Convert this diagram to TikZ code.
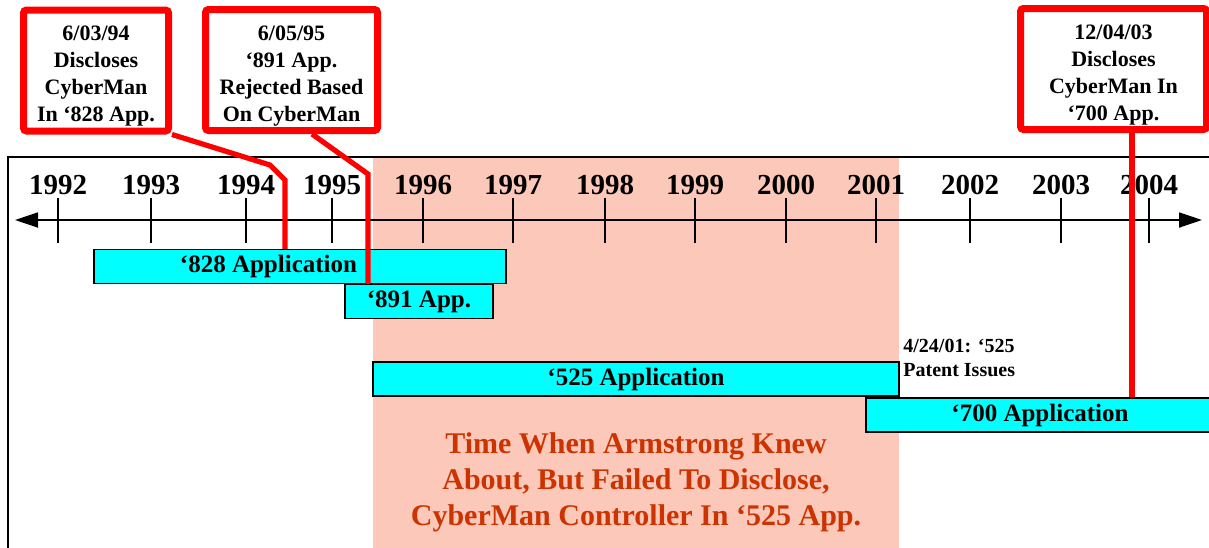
\documentclass[tikz,border=0pt]{standalone}
\usepackage{fontspec}
\setmainfont{Liberation Serif}
\usetikzlibrary{arrows.meta,calc}
\definecolor{barcyan}{RGB}{0,255,255}
\definecolor{knewshade}{RGB}{251,200,185}
\definecolor{knewred}{RGB}{204,51,0}
\definecolor{leadred}{RGB}{255,0,0}
\newcommand{\boxstrut}{\rule{0pt}{13pt}}

\begin{document}
\begin{tikzpicture}[x=0.5pt,y=-0.5pt,every node/.style={font=\bfseries},
    bar/.style={draw=black,line width=0.75pt,fill=barcyan,inner sep=0pt,minimum height=17pt,font=\bfseries\fontsize{12.5}{15}\selectfont},
    callout/.style={draw=leadred,line width=3.5pt,fill=white,rounded corners=1.5pt,align=center,inner sep=0pt,minimum height=60.5pt,font=\bfseries\fontsize{11}{13.5}\selectfont},
    lead/.style={draw=leadred,line width=2.6pt},
    year/.style={anchor=base,font=\bfseries\fontsize{14.5}{17}\selectfont}]
    \useasboundingbox (0,0) rectangle (1209,547);
    \clip (0,0) rectangle (1209,547);

    % Time Armstrong knew
    \fill[knewshade] (373,157) rectangle (899,560);

    % Frame
    \draw[line width=0.75pt] (8,560) -- (8,157) -- (1220,157);

    % Axis
    \draw[line width=0.9pt,{Triangle[length=11.5pt,width=7.5pt]}-{Triangle[length=11.5pt,width=7.5pt]}] (15,220) -- (1202,220);
    \foreach \x/\yr in {58/1992,151/1993,246/1994,332/1995,423/1996,513/1997,605/1998,695/1999,786/2000,876/2001,970/2002,1061/2003,1149/2004} {
        \draw[line width=0.8pt] (\x,198) -- (\x,243);
        \node[year] (y\yr) at (\x,194) {\yr};
    }

    % Applications
    \node[bar,minimum width=206pt] (w828) at (300,266.5) {};
    \node[font=\bfseries\fontsize{12.5}{15}\selectfont] (t828) at (268.5,266.5) {‘828 Application};
    \node[bar,minimum width=74pt] (w891) at (419,301.5) {‘891 App.};
    \node[bar,minimum width=263pt] (w525) at (636,379) {‘525 Application};
    \node[bar,minimum width=174pt] (w700) at (1040,415) {‘700 Application};

    \node[anchor=north west,align=left,inner sep=0pt,font=\bfseries\fontsize{10}{12}\selectfont] (issue) at (903,339) {4/24/01: ‘525\\Patent Issues};

    \node[align=center,inner sep=0pt,text=knewred,font=\bfseries\fontsize{15}{18}\selectfont] (knew) at (636,482) {Time When Armstrong Knew\\About, But Failed To Disclose,\\CyberMan Controller In ‘525 App.};

    % Disclosures
    \node[callout,minimum width=72.5pt] (d94) at (96,70.5) {\boxstrut 6/03/94\\Discloses\\CyberMan\\In ‘828 App.};
    \node[callout,minimum width=86pt] (d95) at (291.5,70) {\boxstrut 6/05/95\\‘891 App.\\Rejected Based\\On CyberMan};
    \node[callout,minimum width=93pt] (d03) at (1113.5,69) {\boxstrut 12/04/03\\Discloses\\CyberMan In\\‘700 App.};

    \coordinate (k94) at (285,180);
    \draw[lead] (d94.south east) -- (270,165) -- (k94) -- (k94 |- w828.north);
    \coordinate (k95) at (368,174);
    \draw[lead] ($(d95.south)+(20.5,0)$) -- (k95) -- (k95 |- w891.north);
    \draw[lead] ($(d03.south)+(18.5,0)$) coordinate (k03) -- (k03 |- w700.north);

\end{tikzpicture}
\end{document}
